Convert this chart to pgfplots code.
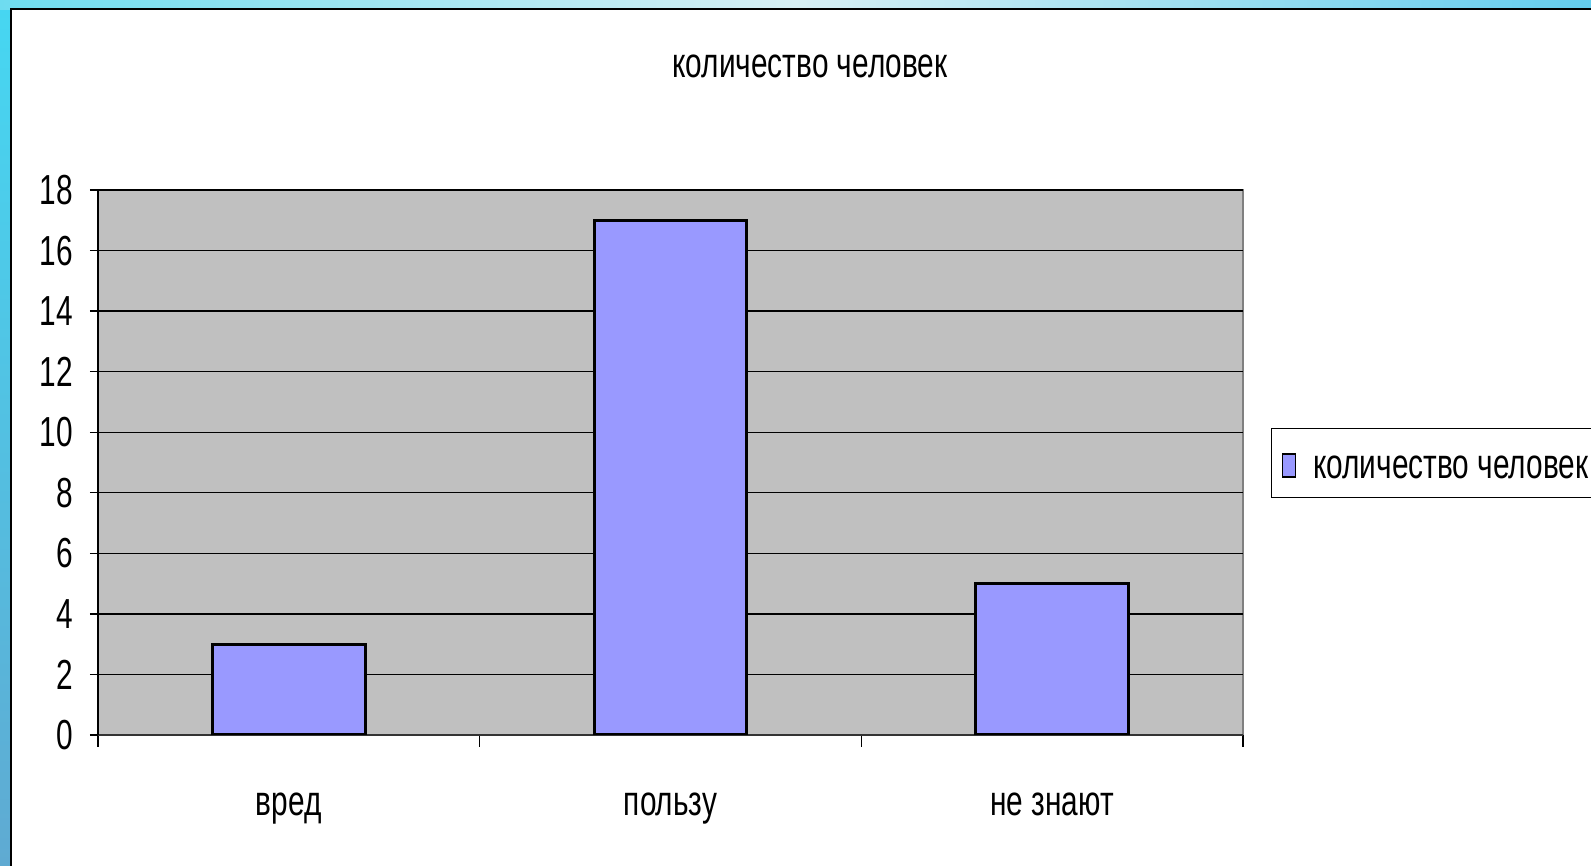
\documentclass[border=0pt]{standalone}
\usepackage{pgfplots}
\pgfplotsset{compat=1.18}
\usepackage{fontspec}
\setmainfont{Liberation Sans}[FakeStretch=0.71]
\definecolor{barfill}{RGB}{153,153,255}
\definecolor{plotbg}{RGB}{192,192,192}
\definecolor{stripTop}{RGB}{70,215,242}
\definecolor{stripBot}{RGB}{95,170,210}
\definecolor{topL}{RGB}{110,220,240}
\definecolor{topM}{RGB}{215,240,245}
\definecolor{topR}{RGB}{100,205,238}
\begin{document}
\fontsize{21}{25}\selectfont
\begin{tikzpicture}
\useasboundingbox (0,0) rectangle (795.5pt,433pt);
\clip (0,0) rectangle (795.5pt,433pt);
\shade[top color=stripTop, bottom color=stripBot] (0,0) rectangle (795.5pt,433pt);
\shade[left color=topL, right color=topR, middle color=topM] (0,428pt) rectangle (795.5pt,433pt);
\draw[fill=white, line width=0.8pt] (5.35pt,-10pt) rectangle (810pt,428.35pt);
\begin{axis}[
  at={(49pt,65.5pt)}, anchor=south west,
  scale only axis, width=572.5pt, height=272.5pt,
  xmin=-0.5, xmax=2.5, ymin=0, ymax=18,
  ybar, bar width=0.4,
  axis background/.style={fill=plotbg, draw=black!50, line width=1pt},
  axis x line*=bottom, axis y line*=left,
  x axis line style={draw=black!80, line width=1pt},
  y axis line style={draw=black, line width=0.8pt},
  ytick={0,2,...,18},
  xtick={0,1,2}, xticklabels={вред,пользу,не знают},
  minor xtick={-0.5,0.5,1.5,2.5},
  every major x tick/.append style={draw=none},
  tick align=outside,
  major tick length=4pt, minor tick length=6pt,
  tick style={black, line width=0.7pt},
  ymajorgrids, grid style={black, line width=0.7pt},
  xticklabel style={anchor=base, yshift=-36.5pt, inner sep=0pt},
  yticklabel style={anchor=east, xshift=-8.5pt, inner sep=0pt},
  /pgf/number format/assume math mode=true,
  title={количество человек},
  every axis title/.style={at={(axis description cs:0.6218,1.2073)}, anchor=base, inner sep=0pt},
  legend style={at={(axis description cs:1.0245,0.5633)}, anchor=north west,
    draw=black, line width=0.6pt, inner xsep=5pt, inner ysep=9.6pt,
    nodes={inner sep=0pt, text depth=0pt, text height=15.4pt}, column sep=8.5pt},
  legend image code/.code={\draw[fill=barfill, draw=black, line width=0.8pt] (0pt,-7pt) rectangle (6.5pt,4.5pt);},
]
\addplot[fill=barfill, draw=black, line width=1.5pt] coordinates {(0,3) (1,17) (2,5)};
\addlegendentry{количество человек\hspace{20pt}}
\end{axis}
\end{tikzpicture}
\end{document}
